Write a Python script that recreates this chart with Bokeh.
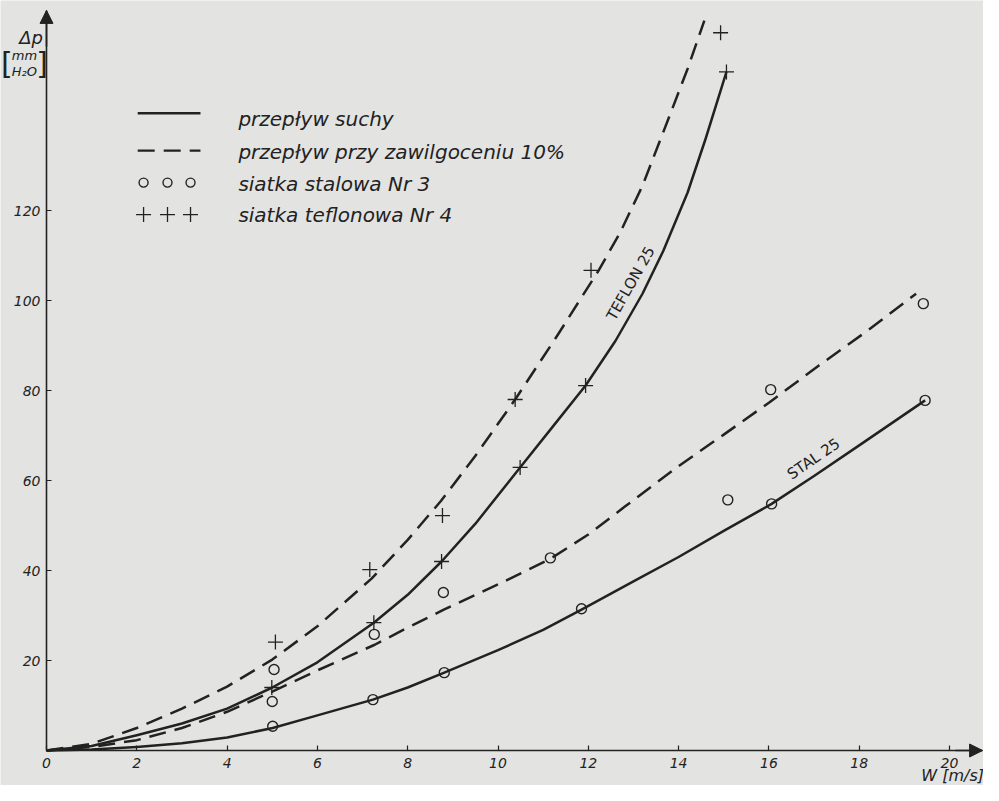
from bokeh.plotting import figure
from bokeh.models import Range1d, FixedTicker, Label, Arrow, NormalHead
from bokeh.embed import file_html
from bokeh.resources import INLINE

# ---------------- data ----------------
X_TICKS = [0, 2, 4, 6, 8, 10, 12, 14, 16, 18, 20]
Y_TICKS = [20, 40, 60, 80, 100, 120]

# przepływ suchy – TEFLON 25 (solid)
TEF_DRY_X = [0, 1, 2, 3, 4, 5, 6, 7.25, 8, 8.75, 9.5, 10.49, 11.2, 11.94, 12.6, 13.2, 13.66, 14.2, 14.6, 15.06]
TEF_DRY_Y = [0, 1.0, 3.4, 6.0, 9.3, 14.0, 19.6, 28.4, 34.6, 42.0, 50.4, 62.9, 71.8, 81.1, 91.0, 101.5, 111.0, 124.0, 136.0, 150.8]
# przepływ przy zawilgoceniu 10% – teflon (dashed)
TEF_WET_X = [0, 1, 2, 3, 4, 5, 6, 7.2, 8, 8.74, 9.5, 10.38, 11.3, 12.23, 12.7, 13.2, 13.76, 14.2, 14.57]
TEF_WET_Y = [0, 1.5, 5.0, 9.3, 14.2, 20.2, 27.6, 38.2, 46.8, 55.5, 65.5, 78.0, 92.0, 106.7, 115.0, 125.5, 140.0, 151.5, 162.2]
# przepływ suchy – STAL 25 (solid)
STAL_DRY_X = [0, 1, 2, 3, 4, 5.01, 6, 7.23, 8, 8.81, 10, 11, 11.85, 13, 14, 15, 16.06, 17, 18, 19.46]
STAL_DRY_Y = [0, 0.2, 0.8, 1.6, 2.9, 5.0, 7.8, 11.3, 14.0, 17.3, 22.3, 26.8, 31.3, 37.6, 43.0, 48.8, 54.8, 61.0, 67.8, 77.8]
# przepływ przy zawilgoceniu 10% – stal (dashed)
STAL_WET_X = [0, 1, 2, 3, 4, 5, 6, 7.27, 8, 8.8, 10, 11.16, 12, 12.81, 14, 15, 16, 17.1, 18.2, 19.26]
STAL_WET_Y = [0, 0.8, 2.3, 5.0, 8.6, 13.1, 17.8, 23.5, 27.3, 31.3, 36.9, 42.6, 48.0, 54.2, 63.2, 70.2, 77.3, 85.5, 93.4, 101.5]

# siatka stalowa Nr 3 (circles)
ST_X = [5.01, 7.23, 8.81, 11.85, 16.06, 19.46, 5.00, 5.04, 7.26, 8.79, 11.16, 15.09, 16.04, 19.42]
ST_Y = [5.4, 11.3, 17.3, 31.5, 54.8, 77.8, 10.9, 18.0, 25.8, 35.1, 42.8, 55.7, 80.2, 99.3]
# siatka teflonowa Nr 4 (pluses)
TF_X = [4.99, 7.25, 8.75, 10.49, 11.94, 15.06, 5.07, 7.16, 8.77, 10.38, 12.06, 14.93]
TF_Y = [14.0, 28.4, 42.0, 62.9, 81.1, 150.8, 24.1, 40.2, 52.2, 78.0, 106.7, 159.5]

LEGEND_TEXTS = ["przepływ suchy", "przepływ przy zawilgoceniu 10%",
                "siatka stalowa Nr 3", "siatka teflonowa Nr 4"]

# ---------------- style ----------------
BG = "#e3e3e1"
INK = "#222222"
FONT = "DejaVu Sans"
W, H = 983, 785
OX, OY = 46, 750          # pixel position of the origin
SX, SY = 45.15, 4.5       # pixels per unit
X0, X1 = -OX / SX, (W - OX) / SX
Y0, Y1 = -(H - OY) / SY, OY / SY

p = figure(width=W, height=H, x_range=Range1d(X0, X1), y_range=Range1d(Y0, Y1),
           output_backend="svg", toolbar_location=None,
           min_border=0, min_border_left=0, min_border_right=0,
           min_border_top=0, min_border_bottom=0)
p.background_fill_color = BG
p.border_fill_color = BG
p.outline_line_color = None
p.grid.visible = False

Y_TIP = Y1 - 2.2
X_TIP = X1 - 0.02

p.xaxis.ticker = FixedTicker(ticks=X_TICKS)
p.yaxis.ticker = FixedTicker(ticks=Y_TICKS)
p.xaxis.fixed_location = 0
p.yaxis.fixed_location = 0
p.xaxis.bounds = (0, X_TIP)
p.yaxis.bounds = (0, Y_TIP)
for ax in (p.xaxis[0], p.yaxis[0]):
    ax.axis_line_color = INK
    ax.axis_line_width = 1.6
    ax.major_tick_line_color = INK
    ax.major_tick_line_width = 1.2
    ax.major_tick_in = 5
    ax.major_tick_out = 0
    ax.minor_tick_line_color = None
    ax.major_label_text_font = FONT
    ax.major_label_text_font_style = "italic"
    ax.major_label_text_font_size = "14px"
    ax.major_label_text_color = INK
p.xaxis.major_label_standoff = 7
p.yaxis.major_label_standoff = 6

# axis arrows
p.add_layout(Arrow(end=NormalHead(size=13, fill_color=INK, line_color=INK),
                   x_start=0, y_start=Y_TIP - 8, x_end=0, y_end=Y_TIP,
                   line_color=INK, line_width=1.6))
p.add_layout(Arrow(end=NormalHead(size=13, fill_color=INK, line_color=INK),
                   x_start=X_TIP - 0.6, y_start=0, x_end=X_TIP, y_end=0,
                   line_color=INK, line_width=1.6))

# curves
p.line(TEF_DRY_X, TEF_DRY_Y, line_color=INK, line_width=2.5, line_join="round")
p.line(STAL_DRY_X, STAL_DRY_Y, line_color=INK, line_width=2.5, line_join="round")
p.line(TEF_WET_X, TEF_WET_Y, line_color=INK, line_width=2.5, line_dash="17 9", line_join="round")
p.line(STAL_WET_X, STAL_WET_Y, line_color=INK, line_width=2.5, line_dash="17 9", line_join="round")

# points
p.scatter(ST_X, ST_Y, marker="circle", size=10, fill_color=None,
          line_color=INK, line_width=1.4)
p.scatter(TF_X, TF_Y, marker="cross", size=15, line_color=INK, line_width=1.3)

# curve labels
p.add_layout(Label(x=12.94, y=103.8, text="TEFLON 25", angle=60.5, angle_units="deg",
                   text_font=FONT, text_font_size="15px", text_color=INK,
                   text_align="center", text_baseline="middle"))
p.add_layout(Label(x=16.99, y=64.8, text="STAL 25", angle=34.5, angle_units="deg",
                   text_font=FONT, text_font_size="15px", text_color=INK,
                   text_align="center", text_baseline="middle"))

# legend (drawn by hand, no box)
LX0, LX1 = 2.02, 3.41
LROW = [141.6, 133.3, 126.2, 119.1]
TROW = [140.4, 132.9, 126.0, 118.9]
MX = [2.15, 2.68, 3.19]
p.segment(x0=[LX0], y0=[LROW[0]], x1=[LX1], y1=[LROW[0]], line_color=INK, line_width=2.4)
p.segment(x0=[LX0], y0=[LROW[1]], x1=[LX1], y1=[LROW[1]], line_color=INK, line_width=2.4,
          line_dash="17 9")
p.scatter(MX, [LROW[2]] * 3, marker="circle", size=9, fill_color=None,
          line_color=INK, line_width=1.4)
p.scatter(MX, [LROW[3]] * 3, marker="cross", size=15, line_color=INK, line_width=1.3)
for t, yy in zip(LEGEND_TEXTS, TROW):
    p.add_layout(Label(x=4.25, y=yy, text=t, text_font=FONT, text_font_style="italic",
                       text_font_size="20px", text_color=INK,
                       text_align="left", text_baseline="middle"))

# axis titles
p.add_layout(Label(x=-0.08, y=158.4, text="Δp", text_font=FONT, text_font_style="italic",
                   text_font_size="18px", text_color=INK, text_align="right",
                   text_baseline="middle"))
p.add_layout(Label(x=-0.88, y=152.7, text="[", text_font=FONT, text_font_size="30px",
                   text_color=INK, text_align="center", text_baseline="middle"))
p.add_layout(Label(x=-0.10, y=152.7, text="]", text_font=FONT, text_font_size="30px",
                   text_color=INK, text_align="center", text_baseline="middle"))
p.add_layout(Label(x=-0.49, y=154.5, text="mm", text_font=FONT, text_font_style="italic",
                   text_font_size="13px", text_color=INK, text_align="center",
                   text_baseline="middle"))
p.add_layout(Label(x=-0.49, y=150.9, text="H₂O", text_font=FONT, text_font_style="italic",
                   text_font_size="13px", text_color=INK, text_align="center",
                   text_baseline="middle"))
p.add_layout(Label(x=20.07, y=-5.6, text="W [m/s]", text_font=FONT, text_font_style="italic",
                   text_font_size="16px", text_color=INK, text_align="center",
                   text_baseline="middle"))

open("out.html", "w").write(file_html(p, INLINE))
